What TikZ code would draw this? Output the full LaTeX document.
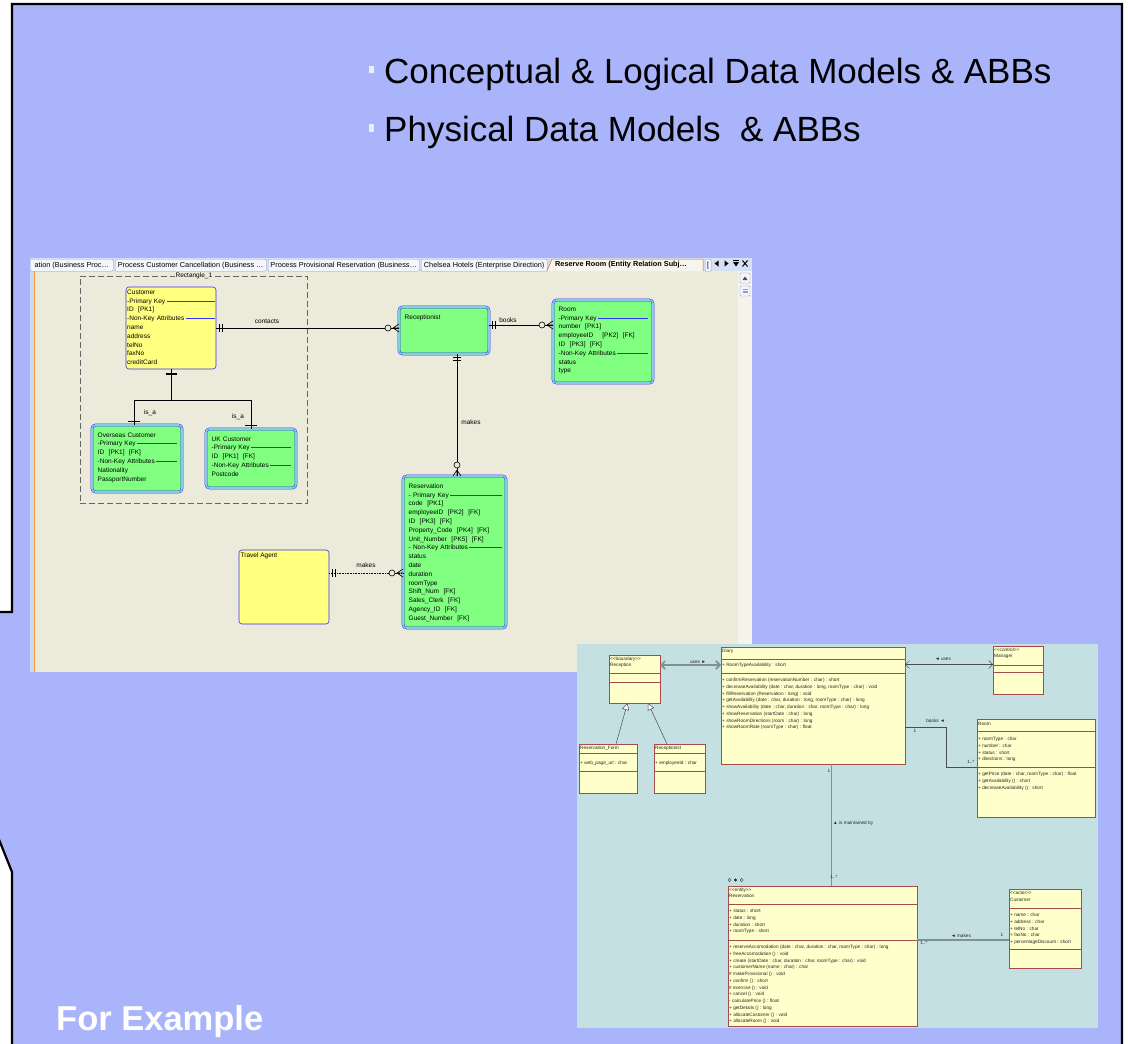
\documentclass[tikz,border=0pt]{standalone}
\usepackage{fontspec}
\setmainfont{Liberation Sans}
\usetikzlibrary{arrows.meta,calc}
\setlength{\parindent}{0pt}
\definecolor{panel}{RGB}{170,180,250}
\definecolor{erbg}{RGB}{236,234,218}
\definecolor{erblue}{RGB}{50,50,245}
\definecolor{eryellow}{RGB}{255,255,128}
\definecolor{ergreen}{RGB}{128,255,128}
\definecolor{erring}{RGB}{130,205,225}
\definecolor{erstrip}{RGB}{205,218,245}
\definecolor{scrollc}{RGB}{244,243,236}
\definecolor{tabbar}{RGB}{214,224,245}
\definecolor{tabfill}{RGB}{244,246,252}
\definecolor{tabline}{RGB}{140,160,200}
\definecolor{umlbg}{RGB}{197,224,226}
\definecolor{umlfill}{RGB}{255,255,204}
\definecolor{umlline}{RGB}{165,75,75}
\definecolor{umlconn}{RGB}{128,145,148}
\definecolor{bulletc}{RGB}{235,238,255}
\newcommand\erf{\fontsize{6.5}{8.8}\selectfont}
\newcommand\umlf{\fontsize{4.7}{6.7}\selectfont}
\newcommand\umlfr{\fontsize{4.7}{6.75}\selectfont}
\newcommand\tabf{\fontsize{7.3}{8}\selectfont}
\newcommand\gp{\hspace{4.5pt}}
\newdimen\erw
\newcommand\erhead[1]{\leavevmode\setbox0\hbox{#1\kern1.5pt}\erw=\dimexpr\hsize-\wd0\relax\box0\textcolor{erblue}{\rule[1.8pt]{\erw}{0.7pt}}}
\newcommand\slidebullet{\textcolor{bulletc}{\raisebox{9.7pt}{\rule{5.5pt}{7.6pt}}}\hspace{10pt}}
\tikzset{
  erl/.style={draw=black, line width=0.6pt},
  erY/.style={anchor=north west, inner sep=0, outer sep=0, draw=erblue, fill=eryellow, rounded corners=3pt, line width=0.6pt},
  erG/.style={anchor=north west, inner sep=0, outer sep=0, draw=erblue, fill=ergreen, rounded corners=3.5pt, line width=0.5pt, double=erring, double distance=1.6pt},
  ertxt/.style={anchor=north west, inner sep=0, font=\erf, align=left},
  erlab/.style={inner sep=0, font=\erf},
  tab/.style={anchor=north west, draw=tabline, fill=tabfill, font=\tabf, inner sep=0, minimum height=12pt, line width=0.4pt, rounded corners=1pt},
  umlbox/.style={anchor=north west, inner sep=0, outer sep=0, draw=umlline, fill=umlfill, line width=0.5pt},
  umltxt/.style={anchor=north west, inner sep=0, font=\umlf, align=left, text=black!85},
  umlsep/.style={draw=umlline, line width=0.4pt},
  umlc/.style={draw=black!70, line width=0.5pt},
  umlgray/.style={draw=umlconn, line width=1.6pt},
  umllab/.style={inner sep=0, font=\umlf, text=black!85},
  slidetxt/.style={anchor=base west, inner sep=0, font=\fontsize{35}{40}\selectfont},
  pics/oneone/.style={code={\draw[erl] (3.5,-4) -- (3.5,4) (6.5,-4) -- (6.5,4);}},
  pics/zeromany/.style={code={\draw[erl, fill=erbg] (-11,0) circle[radius=3]; \draw[erl] (-6,0) -- (0,-4) (-6,0) -- (0,0) (-6,0) -- (0,4);}},
}
\newcommand\usep[2]{\draw[umlsep] ($(#1.north west)+(0,#2)$) -- ($(#1.north east)+(0,#2)$);}
\begin{document}
\begin{tikzpicture}[x=1pt,y=-1pt]
\useasboundingbox (0,0) rectangle (1128,1044);
\fill[white] (0,0) rectangle (1128,1044);
% slide panel
\draw[line width=2.2pt, fill=panel] (12,4) -- (1122,4) -- (1122,1060) -- (12,1060) -- (12,872) -- (-3,834.5) -- (-3,612) -- (12,612) -- cycle;

% ===== ER screenshot =====
\fill[erbg] (30,258) rectangle (752,672);
\fill[erstrip] (30,271) rectangle (34,672);
\draw[orange!80, line width=0.6pt] (34.5,271) -- (34.5,672);
\fill[scrollc] (738,271) rectangle (752,672);
\fill[tabbar] (30,258) rectangle (752,271);
\draw[tabline, fill=tabfill, rounded corners=1pt] (740,273) rectangle (750,283);
\fill[black!70] (742.5,280) -- (745,276.5) -- (747.5,280) -- cycle;
\draw[tabline, fill=tabfill, rounded corners=1pt] (740,286) rectangle (750,296);
\draw[tabline] (742.5,289.5) -- (747.5,289.5) (742.5,291) -- (747.5,291) (742.5,292.5) -- (747.5,292.5);
% tabs
\node[tab, minimum width=83pt] (tab1) at (30,259) {ation (Business Proc…};
\node[tab, minimum width=151pt] (tab2) at (115,259) {Process Customer Cancellation (Business …};
\node[tab, minimum width=151pt] (tab3) at (268,259) {Process Provisional Reservation (Business…};
\node[tab, minimum width=126pt] (tab4) at (421,259) {Chelsea Hotels (Enterprise Direction)};
\draw[orange!85!black, fill=white!55!erbg, line width=0.5pt] (547,271) -- (552,259) -- (703,259) -- (703,271);
\node[inner sep=0, font=\tabf\bfseries, anchor=west] (tab5) at (555,265) {Reserve Room (Entity Relation Subj…};
\node[tab, minimum width=6pt, anchor=north west] (tab6) at (705,259) {[};
\fill[black] (714.5,263.5) -- (718.5,260.5) -- (718.5,266.5) -- cycle;
\fill[black] (724.5,260.5) -- (728.5,263.5) -- (724.5,266.5) -- cycle;
\draw[line width=0.6pt] (733,260) -- (739,260);
\fill[black] (733,262) -- (739,262) -- (736,266.5) -- cycle;
\draw[line width=1pt] (742.5,260.5) -- (747.5,266.5) (742.5,266.5) -- (747.5,260.5);

% dashed group
\node[anchor=north west, inner sep=0, draw=black!60, line width=0.8pt, dash pattern=on 6pt off 3pt, minimum width=227pt, minimum height=227pt] (rect1) at (80,276) {};
\node[erlab, fill=erbg, inner sep=0.6pt] (rect1lab) at (rect1.north) {Rectangle\_1};

% entities
\node[erY, minimum width=90pt, minimum height=82pt] (cust) at (126,287) {};
\node[ertxt, text width=88pt] (custT) at ($(cust.north west)+(1,2.5)$) {Customer\\\erhead{-Primary Key}\\ID\gp[PK1]\\\erhead{-Non-Key Attributes}\\name\\address\\telNo\\faxNo\\creditCard};

\node[erG, minimum width=90pt, minimum height=47pt] (recep) at (399,307) {};
\node[ertxt] (recepT) at ($(recep.north west)+(5.5,7.3)$) {Receptionist};

\node[erG, minimum width=100pt, minimum height=83pt] (room) at (553,300) {};
\node[ertxt, text width=89pt] (roomT) at ($(room.north west)+(5.5,6.6)$) {Room\\\erhead{-Primary Key}\\number\gp[PK1]\\employeeID\gp\gp[PK2]\gp[FK]\\ID\gp[PK3]\gp[FK]\\\erhead{-Non-Key Attributes}\\status\\type};

\node[erG, minimum width=90pt, minimum height=67pt] (ovs) at (92,425) {};
\node[ertxt, text width=79pt] (ovsT) at ($(ovs.north west)+(5.5,7.3)$) {Overseas Customer\\\erhead{-Primary Key}\\ID\gp[PK1]\gp[FK]\\\erhead{-Non-Key Attributes}\\Nationality\\PassportNumber};

\node[erG, minimum width=90pt, minimum height=59pt] (uk) at (206,429) {};
\node[ertxt, text width=79pt] (ukT) at ($(uk.north west)+(5.5,7.3)$) {UK Customer\\\erhead{-Primary Key}\\ID\gp[PK1]\gp[FK]\\\erhead{-Non-Key Attributes}\\Postcode};

\node[erG, minimum width=103pt, minimum height=152pt] (resv) at (403,476) {};
\node[ertxt, text width=93pt] (resvT) at ($(resv.north west)+(5.5,7.3)$) {Reservation\\\erhead{- Primary Key}\\code\gp[PK1]\\employeeID\gp[PK2]\gp[FK]\\ID\gp[PK3]\gp[FK]\\Property\_Code\gp[PK4]\gp[FK]\\Unit\_Number\gp[PK5]\gp[FK]\\\erhead{- Non-Key Attributes}\\status\\date\\duration\\roomType\\Shift\_Num\gp[FK]\\Sales\_Clerk\gp[FK]\\Agency\_ID\gp[FK]\\Guest\_Number\gp[FK]};

\node[erY, minimum width=90pt, minimum height=74pt] (ta) at (239,550) {};
\node[ertxt] (taT) at ($(ta.north west)+(1.5,2.5)$) {Travel Agent};

% ER relationships
\draw[erl] (cust.east) coordinate (c1) -- (c1 -| recep.west) coordinate (c2);
\pic at (c1) {oneone};
\pic at (c2) {zeromany};
\node[erlab] (contactsL) at (267,321) {contacts};

\draw[erl] ($(recep.north east)+(0,18)$) coordinate (b1) -- (b1 -| room.west) coordinate (b2);
\pic at (b1) {oneone};
\pic at (b2) {zeromany};
\node[erlab] (booksL) at (508,320) {books};

\draw[erl] ($(recep.south west)+(58,0)$) coordinate (m1) -- (m1 |- resv.north) coordinate (m2);
\pic[rotate=-90] at (m1) {oneone};
\pic[rotate=-90] at (m2) {zeromany};
\node[erlab] (makesL) at (471,422) {makes};

\draw[erl, densely dotted] ($(ta.north east)+(0,23)$) coordinate (t1) -- (t1 -| resv.west) coordinate (t2);
\pic at (t1) {oneone};
\pic at (t2) {zeromany};
\node[erlab] (makesL2) at (366,565) {makes};

\draw[erl] (cust.south) -- ++(0,31) coordinate (isa);
\draw[line width=1.8pt] ($(cust.south)+(-5.5,5)$) -- ++(11,0);
\draw[erl] ($(ovs.north)+(-3,0)$) coordinate (o1) |- (isa -| uk.north) -- (uk.north);
\draw[erl] ($(o1)+(-6,-4)$) -- ++(12,0);
\draw[erl] ($(uk.north)+(-6,-4)$) -- ++(12,0);
\node[erlab] (isa1) at (150,413) {is\_a};
\node[erlab] (isa2) at (238,417) {is\_a};

% ===== UML screenshot =====
\fill[umlbg] (577,644) rectangle (1098,1028);

\node[umlbox, minimum width=51pt, minimum height=48pt] (recp) at (609,655) {};
\usep{recp}{18}\usep{recp}{27}
\node[umltxt] (recpT) at ($(recp.north west)+(1,1.5)$) {<{}<boundary>{}>\\Reception};

\node[umlbox, minimum width=184pt, minimum height=117pt] (diary) at (721,647) {};
\usep{diary}{12}\usep{diary}{26}
\node[umltxt] (diaryN) at ($(diary.north west)+(1,1.7)$) {Diary};
\node[umltxt] (diaryA) at ($(diary.north west)+(1,16.2)$) {+ RoomTypeAvailability : short};
\node[umltxt] (diaryM) at ($(diary.north west)+(1,31.2)$) {+ confirmReservation (reservationNumber : char) : short\\+ decreaseAvailability (date : char, duration : long, roomType : char) : void\\+ fillReservation (Reservation : long) : void\\+ getAvailability (date : char, duration : long, roomType : char) : long\\+ showAvailability (date : char, duration : char, roomType : char) : long\\+ showReservation (startDate : char) : long\\+ showRoomDirections (room : char) : long\\+ showRoomRate (roomType : char) : float};

\node[umlbox, minimum width=50pt, minimum height=48pt] (mgr) at (993,646) {};
\usep{mgr}{19}\usep{mgr}{26}
\node[umltxt] (mgrT) at ($(mgr.north west)+(1,1.5)$) {<{}<control>{}>\\Manager};

\node[umlbox, minimum width=118pt, minimum height=98pt] (uroom) at (977,719) {};
\usep{uroom}{12}\usep{uroom}{48}
\node[umltxt] (uroomN) at ($(uroom.north west)+(1,3.5)$) {Room};
\node[umltxt] (uroomA) at ($(uroom.north west)+(1,18.2)$) {+ roomType : char\\+ number : char\\+ status : short\\+ directions : long};
\node[umltxt] (uroomM) at ($(uroom.north west)+(1,53.2)$) {+ getPrice (date : char, roomType : char) : float\\+ getAvailability () : short\\+ decreaseAvailability () : short};

\node[umlbox, minimum width=58pt, minimum height=49pt] (rform) at (579,744) {};
\usep{rform}{9}\usep{rform}{27}
\node[umltxt] (rformN) at ($(rform.north west)+(1,2)$) {Reservation\_Form};
\node[umltxt] (rformA) at ($(rform.north west)+(1,16.9)$) {+ web\_page\_url : char};

\node[umlbox, minimum width=51pt, minimum height=49pt] (rcpt) at (654,744) {};
\usep{rcpt}{9}\usep{rcpt}{27}
\node[umltxt] (rcptN) at ($(rcpt.north west)+(1,2)$) {Receptionist};
\node[umltxt] (rcptA) at ($(rcpt.north west)+(1,16.9)$) {+ employeeId : char};

\node[umlbox, minimum width=189pt, minimum height=140pt] (uresv) at (728,886) {};
\usep{uresv}{18}\usep{uresv}{54}
\node[umltxt] (uresvN) at ($(uresv.north west)+(1,1.5)$) {<{}<entity>{}>\\Reservation};
\node[umltxt] (uresvA) at ($(uresv.north west)+(1,23.2)$) {+ status : short\\+ date : long\\+ duration : short\\+ roomType : short};
\node[umltxt, font=\umlfr] (uresvM) at ($(uresv.north west)+(1,58.9)$) {+ reserveAccomodation (date : char, duration : char, roomType : char) : long\\+ freeAccomodation () : void\\+ create (startDate : char, duration : char, roomType : char) : void\\+ customerName (name : char) : char\\\# makeProvisional () : void\\+ confirm () : short\\\# exercise () : void\\+ cancel () : void\\- calculatePrice () : float\\+ getDetails () : long\\+ allocateCustomer () : void\\+ allocateRoom () : void};
\draw[black!80, line width=0.4pt] (729.5,880) circle[radius=1.6];
\fill[black!85] (735.5,880) circle[radius=1.6];
\draw[black!80, line width=0.4pt] (741.5,880) circle[radius=1.6];

\node[umlbox, minimum width=72pt, minimum height=79pt] (ucust) at (1009,889) {};
\usep{ucust}{19}\usep{ucust}{60}
\node[umltxt] (ucustN) at ($(ucust.north west)+(1,2.5)$) {<{}<actor>{}>\\Customer};
\node[umltxt] (ucustA) at ($(ucust.north west)+(1,24.2)$) {+ name : char\\+ address : char\\+ telNo : char\\+ faxNo : char\\+ percentageDiscount : short};

% UML connectors
\coordinate (u1) at ($(recp.north east)+(0,10)$);
\draw[umlgray, {Straight Barb[length=4pt,width=8pt]}-{Straight Barb[length=4pt,width=8pt]}] (u1) -- (u1 -| diary.west);
\node[umllab] (usesL1) at (698,662) {uses ►};

\coordinate (u2) at ($(diary.north east)+(0,17.5)$);
\draw[umlc, {Straight Barb[length=4pt,width=8pt]}-{Straight Barb[length=4pt,width=8pt]}] (u2) -- (u2 -| mgr.west);
\node[umllab] (usesL2) at (943,659) {◄ uses};

\draw[umlc] ($(diary.north east)+(0,80)$) -- ++(41,0) |- ($(uroom.north west)+(0,48)$);
\node[umllab] (booksU) at (935.5,721) {books ◄};
\node[umllab] (mb1) at (915,731) {1};
\node[umllab] (mb2) at (971,762) {1..*};

\draw[umlgray] ($(diary.south west)+(110.5,0)$) coordinate (d1) -- (d1 |- uresv.north);
\node[umllab, anchor=west] (maintL) at (833,823) {▲ is maintained by};
\node[umllab] (mm1) at (829,771) {1};
\node[umllab] (mm2) at (834,877) {1..*};

\draw[umlgray] ($(uresv.north east)+(0,54)$) coordinate (k1) -- (k1 -| ucust.west);
\node[umllab] (makesU) at (961,936) {◄ makes};
\node[umllab] (mk1) at (924,943) {1..*};
\node[umllab] (mk2) at (1002,935) {1};

\draw[umlc, -{Triangle[open, length=7pt, width=7pt, fill=white]}] ($(rform.north west)+(37,0)$) -- ($(recp.south west)+(18.5,0)$);
\draw[umlc, -{Triangle[open, length=7pt, width=7pt, fill=white]}] ($(rcpt.north west)+(13,0)$) -- ($(recp.south west)+(39,0)$);

% ===== slide texts =====
\node[slidetxt] (line1) at (368.5,83) {\slidebullet Conceptual \& Logical Data Models \& ABBs};
\node[slidetxt] (line2) at (368.5,141.5) {\slidebullet Physical Data Models\ \ \& ABBs};
\node[anchor=base west, inner sep=0, font=\fontsize{34.5}{38}\selectfont\bfseries, text=white] (forex) at (56,1030) {For Example};
\end{tikzpicture}
\end{document}
